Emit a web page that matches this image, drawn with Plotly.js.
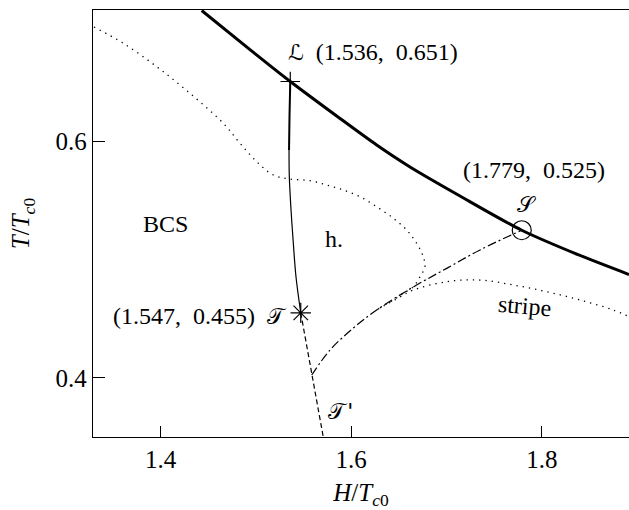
<!DOCTYPE html>
<html>
<head>
<meta charset="utf-8">
<script src="https://cdn.plot.ly/plotly-3.0.1.min.js"></script>
<style>html,body{margin:0;padding:0;background:#fff;}#chart{width:629px;height:510px;}</style>
</head>
<body>
<div id="chart"></div>
<script>
// Thick solid boundary curve
var thickH = [1.443, 1.4937, 1.536, 1.5882, 1.6267, 1.6617, 1.7142, 1.779, 1.8402, 1.8916];
var thickT = [0.7112, 0.678, 0.651, 0.6197, 0.5972, 0.5786, 0.554, 0.525, 0.5036, 0.4875];

// Thin solid line from L to T (upper bold part + thin part)
var solidBoldH = [1.536, 1.5352, 1.5347];
var solidBoldT = [0.651, 0.622, 0.593];
var solidThinH = [1.5347, 1.5350, 1.5368, 1.5392, 1.5420, 1.547];
var solidThinT = [0.593, 0.5703, 0.5421, 0.5139, 0.4856, 0.455];

// Dashed line from T down to the axis
var dashedH = [1.547, 1.5585, 1.5707];
var dashedT = [0.455, 0.4023, 0.3495];

// Dash-dot line from the dashed line up to S
var dashDotH = [1.5585, 1.5777, 1.6022, 1.6267, 1.6651, 1.7002, 1.7352, 1.779];
var dashDotT = [0.4023, 0.4235, 0.4421, 0.4574, 0.4769, 0.4927, 0.5083, 0.525];

// Upper dotted curve (BCS / h. boundary)
var dotUpperH = [1.3299, 1.3607, 1.3958, 1.4307, 1.4657, 1.4832, 1.5007, 1.5182, 1.5357, 1.5567, 1.5742, 1.5917, 1.6092, 1.6267, 1.6442, 1.6582, 1.6687, 1.6756, 1.6774, 1.6722, 1.6651, 1.6547, 1.6442, 1.6281];
var dotUpperT = [0.6972, 0.6834, 0.6636, 0.641, 0.6156, 0.5987, 0.5831, 0.5718, 0.5684, 0.567, 0.5633, 0.5591, 0.5534, 0.5449, 0.5351, 0.5252, 0.5139, 0.5026, 0.4941, 0.4856, 0.4771, 0.4715, 0.4659, 0.4582];

// Lower dotted curve (stripe boundary)
var stripeH = [1.6281, 1.6512, 1.6652, 1.7002, 1.7352, 1.7701, 1.8052, 1.8402, 1.8751, 1.8916];
var stripeT = [0.4582, 0.4684, 0.4743, 0.4814, 0.4828, 0.4786, 0.4729, 0.4659, 0.4574, 0.4517];

// Special points
var pointL = [1.536, 0.651];
var pointT = [1.547, 0.455];
var pointS = [1.779, 0.525];

// Tick values
var xTicks = [1.4, 1.6, 1.8];
var xTickText = ['1.4', '1.6', '1.8'];
var yTicks = [0.4, 0.6];
var yTickText = ['0.4', '0.6'];

var scriptSpan = function (s) { return '<span style="font-family:DejaVu Sans;font-size:22px">' + s + '</span>'; };

// Labels
var labelText = [
  scriptSpan('\u2112') + '\u00a0\u00a0(1.536,\u00a0 0.651)',
  '(1.779,\u00a0 0.525)',
  '\uD835\uDCAE',
  '(1.547,\u00a0 0.455)\u00a0\u00a0' + scriptSpan('\uD835\uDCAF'),
  '\uD835\uDCAF\u200a\'',
  'BCS', 'h.', 'stripe'];
var labelH = [1.5326, 1.7919, 1.7835, 1.5336, 1.5885, 1.4045, 1.5819, 1.7814];
var labelT = [0.6756, 0.576, 0.5472, 0.4523, 0.3718, 0.5303, 0.5176, 0.4608];
var labelAnchor = ['left', 'center', 'center', 'right', 'center', 'center', 'center', 'center'];
var labelAngle = [0, 0, 0, 0, 0, 0, 0, 5];
var labelScript = [false, false, true, false, true, false, false, false];

var serif = '"Liberation Serif", serif';
var scriptFont = '"DejaVu Sans", sans-serif';

var traces = [
  {x: thickH, y: thickT, mode: 'lines', line: {color: '#000', width: 3, shape: 'spline', smoothing: 0.8}},
  {x: solidBoldH, y: solidBoldT, mode: 'lines', line: {color: '#000', width: 2, shape: 'spline'}},
  {x: solidThinH, y: solidThinT, mode: 'lines', line: {color: '#000', width: 1.2, shape: 'spline'}},
  {x: dashedH, y: dashedT, mode: 'lines', line: {color: '#000', width: 1.2, dash: '5px,3px'}},
  {x: dashDotH, y: dashDotT, mode: 'lines', line: {color: '#000', width: 1.2, dash: '9px,3px,2px,3px', shape: 'spline'}},
  {x: dotUpperH, y: dotUpperT, mode: 'lines', line: {color: '#000', width: 1.3, dash: '1.3px,5px', shape: 'spline'}},
  {x: stripeH, y: stripeT, mode: 'lines', line: {color: '#000', width: 1.3, dash: '1.3px,5px', shape: 'spline'}},
  {x: [pointL[0]], y: [pointL[1]], mode: 'markers', marker: {symbol: 'cross-thin', size: 14, color: '#000', line: {color: '#000', width: 1.2}}},
  {x: [pointT[0]], y: [pointT[1]], mode: 'markers', marker: {symbol: 'asterisk', size: 17, color: '#000', line: {color: '#000', width: 1.2}}},
  {x: [pointS[0]], y: [pointS[1]], mode: 'markers', marker: {symbol: 'circle-open', size: 19, color: '#000', line: {color: '#000', width: 1.2}}}
];

var annotations = labelText.map(function (t, i) {
  return {
    x: labelH[i], y: labelT[i], xref: 'x', yref: 'y', text: t, showarrow: false,
    textangle: labelAngle[i], xanchor: labelAnchor[i], yanchor: 'middle', borderpad: 0,
    font: {family: labelScript[i] ? scriptFont : serif, size: labelScript[i] ? 22 : 24, color: '#000'}
  };
});

var layout = {
  width: 629, height: 510,
  margin: {l: 93, r: 0, t: 10, b: 73},
  paper_bgcolor: '#fff', plot_bgcolor: '#fff',
  showlegend: false, hovermode: false,
  font: {family: serif, color: '#000'},
  xaxis: {
    range: [1.3289, 1.8916], showgrid: false, zeroline: false,
    showline: true, mirror: true, linecolor: '#000', linewidth: 1.3,
    ticks: 'inside', ticklen: 11, tickwidth: 1.2, tickcolor: '#000',
    tickvals: xTicks, ticktext: xTickText,
    tickfont: {family: serif, size: 25, color: '#000'},
    title: {text: '<i>H</i>/<i>T</i><sub><i>c</i>0</sub>', font: {family: serif, size: 25, color: '#000'}, standoff: 15}
  },
  yaxis: {
    range: [0.3498, 0.7116], showgrid: false, zeroline: false,
    showline: true, mirror: false, linecolor: '#000', linewidth: 1.3,
    ticks: 'inside', ticklen: 12, tickwidth: 1.2, tickcolor: '#000',
    tickvals: yTicks, ticktext: yTickText,
    tickfont: {family: serif, size: 25, color: '#000'},
    title: {text: '<i>T</i>/<i>T</i><sub><i>c</i>0</sub>', font: {family: serif, size: 25, color: '#000'}, standoff: 18}
  },
  annotations: annotations
};

Plotly.newPlot('chart', traces, layout, {staticPlot: true, displayModeBar: false});
</script>
</body>
</html>
